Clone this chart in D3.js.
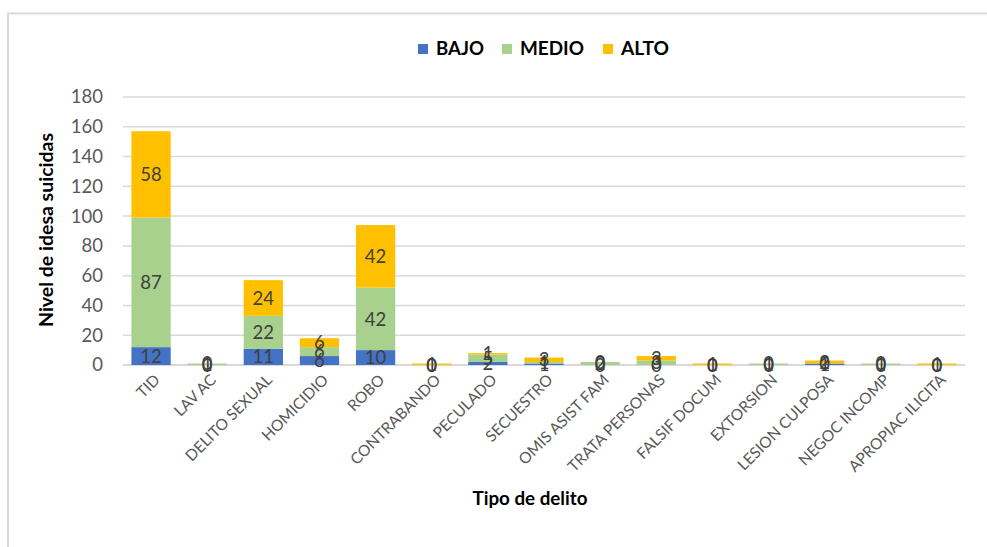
<!DOCTYPE html>
<html>
<head>
<meta charset="utf-8">
<script src="https://cdn.jsdelivr.net/npm/d3@7"></script>
<style>
  body { margin: 0; background: #fff; }
  text { font-family: Lato, "Liberation Sans", sans-serif; }
</style>
</head>
<body>
<div id="chart"></div>
<script>
// categories and series values
var categorias = ["TID", "LAV AC", "DELITO SEXUAL", "HOMICIDIO", "ROBO", "CONTRABANDO",
    "PECULADO", "SECUESTRO", "OMIS ASIST FAM", "TRATA PERSONAS", "FALSIF DOCUM",
    "EXTORSION", "LESION CULPOSA", "NEGOC INCOMP", "APROPIAC ILICITA"];
var bajo  = [12, 0, 11, 6, 10, 0, 2, 1, 0, 0, 0, 0, 1, 0, 0];
var medio = [87, 1, 22, 6, 42, 0, 5, 1, 2, 3, 0, 1, 0, 1, 0];
var alto  = [58, 0, 24, 6, 42, 1, 1, 3, 0, 3, 1, 0, 2, 0, 1];
var series = ["BAJO", "MEDIO", "ALTO"];
var yTicks = [0, 20, 40, 60, 80, 100, 120, 140, 160, 180];

var colors = {
    "BAJO" : "#4472C4",
    "MEDIO" : "#A9D18E",
    "ALTO" : "#FFC000"
};

var W = 987, H = 547;
var svg = d3.select("#chart").append("svg")
    .attr("width", W)
    .attr("height", H);

// chart border (only top and left visible in the picture)
svg.append("path")
    .attr("d", "M8,547 V13.5 H987")
    .attr("fill", "none")
    .attr("stroke", "#d9d9d9")
    .attr("stroke-width", 2);

var x = d3.scaleBand()
    .domain(categorias)
    .range([123, 965])
    .paddingInner(0.3)
    .paddingOuter(0.15);

var y = d3.scaleLinear()
    .domain([0, 180])
    .range([365, 97]);

// gridlines
svg.append("g")
    .selectAll("line")
    .data(yTicks)
    .enter()
    .append("line")
    .attr("x1", 123)
    .attr("x2", 965)
    .attr("y1", function (d) { return y(d); })
    .attr("y2", function (d) { return y(d); })
    .attr("stroke", "#d9d9d9")
    .attr("stroke-width", function (d) { return d === 0 ? 2 : 1.5; });

// y axis labels
var yAxis = d3.axisLeft(y).tickValues(yTicks).tickSize(0).tickPadding(0);
var gy = svg.append("g")
    .attr("transform", "translate(103,0)")
    .call(yAxis);
gy.select(".domain").remove();
gy.selectAll("text")
    .attr("fill", "#595959")
    .style("font-size", "18.5px")
    .style("font-family", "Lato, 'Liberation Sans', sans-serif");

// stacked data
var rows = categorias.map(function (c, i) {
    return { cat: c, BAJO: bajo[i], MEDIO: medio[i], ALTO: alto[i] };
});
var stacked = d3.stack().keys(series)(rows);

var layers = svg.append("g")
    .selectAll("g")
    .data(stacked)
    .enter()
    .append("g")
    .attr("fill", function (d) { return colors[d.key]; });

layers.selectAll("rect")
    .data(function (d) { return d; })
    .enter()
    .append("rect")
    .attr("x", function (d) { return x(d.data.cat); })
    .attr("width", x.bandwidth())
    .attr("y", function (d) { return y(d[1]); })
    .attr("height", function (d) { return Math.max(y(d[0]) - y(d[1]), d[1] > d[0] ? 1.5 : 0); });

// data labels (overlapping on the small bars, as in the original)
var labels = svg.append("g");
stacked.forEach(function (layer) {
    labels.selectAll(null)
        .data(layer)
        .enter()
        .append("text")
        .attr("x", function (d) { return x(d.data.cat) + x.bandwidth() / 2; })
        .attr("y", function (d) { return (y(d[0]) + y(d[1])) / 2; })
        .attr("dy", "0.36em")
        .attr("text-anchor", "middle")
        .attr("fill", "#404040")
        .style("font-size", "18.5px")
        .text(function (d) { return d.data[layer.key]; });
});

// x axis labels, rotated
svg.append("g")
    .selectAll("text")
    .data(categorias)
    .enter()
    .append("text")
    .attr("transform", function (d) {
        return "translate(" + (x(d) + x.bandwidth() / 2 + 6) + ",377) rotate(-45)";
    })
    .attr("text-anchor", "end")
    .attr("dy", "0.35em")
    .attr("fill", "#595959")
    .style("font-size", "15.5px")
    .text(function (d) { return d; });

// axis titles
svg.append("text")
    .attr("x", 530)
    .attr("y", 505)
    .attr("text-anchor", "middle")
    .attr("fill", "#000")
    .attr("textLength", 115)
    .attr("lengthAdjust", "spacingAndGlyphs")
    .style("font-size", "19px")
    .style("font-weight", "bold")
    .text("Tipo de delito");

svg.append("text")
    .attr("transform", "translate(53,230) rotate(-90)")
    .attr("text-anchor", "middle")
    .attr("fill", "#000")
    .attr("textLength", 194)
    .attr("lengthAdjust", "spacingAndGlyphs")
    .style("font-size", "18px")
    .style("font-weight", "bold")
    .text("Nivel de idesa suicidas");

// legend
var legendPos = { "BAJO": 418, "MEDIO": 502, "ALTO": 603 };
var legendLen = { "BAJO": 48, "MEDIO": 64, "ALTO": 48 };
var legend = svg.append("g")
    .selectAll("g")
    .data(series)
    .enter()
    .append("g")
    .attr("transform", function (d) { return "translate(" + legendPos[d] + ",44)"; });
legend.append("rect")
    .attr("width", 10)
    .attr("height", 10)
    .attr("fill", function (d) { return colors[d]; });
legend.append("text")
    .attr("x", 18)
    .attr("y", 5)
    .attr("dy", "0.36em")
    .attr("fill", "#000")
    .attr("textLength", function (d) { return legendLen[d]; })
    .attr("lengthAdjust", "spacingAndGlyphs")
    .style("font-size", "18px")
    .style("font-weight", "bold")
    .text(function (d) { return d; });
</script>
</body>
</html>
